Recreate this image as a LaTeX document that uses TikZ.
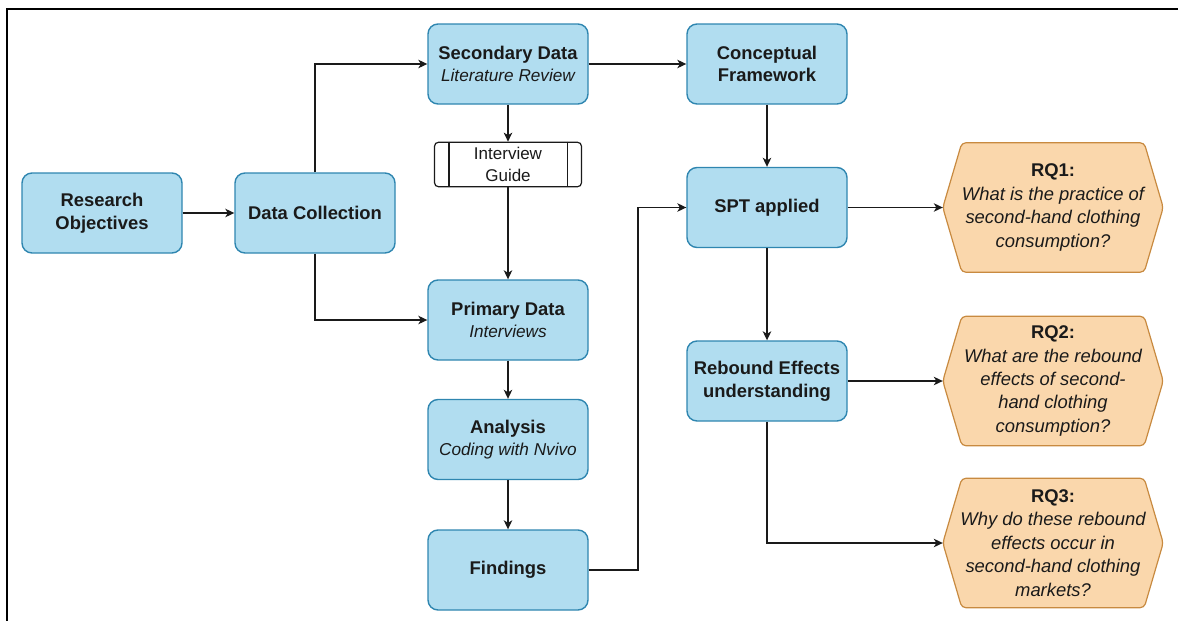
\documentclass[tikz,border=0pt]{standalone}
\usepackage{fontspec}
\setmainfont{Liberation Sans}
\usetikzlibrary{arrows.meta,backgrounds,calc}
\definecolor{boxfill}{HTML}{B1DDF0}
\definecolor{boxline}{HTML}{2F86B0}
\definecolor{rqfill}{HTML}{FAD7AC}
\definecolor{rqline}{HTML}{C88A40}
\definecolor{ink}{HTML}{1A1A1A}
\tikzset{
  stepbox/.style={draw=boxline, fill=boxfill, line width=1.4pt, rounded corners=10pt,
    minimum width=160pt, minimum height=80pt, inner sep=0pt, align=center,
    text=ink, font=\fontsize{18.4}{22.7}\selectfont\bfseries},
  guidebox/.style={draw=ink, fill=white, line width=1.2pt, rounded corners=4pt,
    minimum width=147pt, minimum height=44.5pt, inner sep=0pt, align=center,
    text=ink, font=\fontsize{17}{22}\selectfont},
  rqtext/.style={minimum width=220pt, minimum height=129pt, inner sep=0pt, align=center,
    text=ink, font=\fontsize{18.4}{23.4}\selectfont\itshape},
  rqshape/.style={draw=rqline, fill=rqfill, line width=1.2pt, rounded corners=4pt},
  conn/.style={draw=ink, line width=1.3pt, -{Stealth[length=9pt,width=8.5pt,inset=2.5pt]}},
}
\newcommand{\sub}[1]{{\fontsize{17.2}{22.7}\selectfont\mdseries\itshape #1}}
\newcommand{\rqhead}[1]{{\upshape\bfseries #1}}
\begin{document}
\begin{tikzpicture}[x=1pt,y=-1pt]
\useasboundingbox (0,0) rectangle (1178,621);
% outer frame (top and left edges)
\draw[line width=2pt, draw=black] (7,621) -- (7,9) -- (1178,9);

% process boxes
\node[stepbox] (ro)  at (102,213) {Research\\Objectives};
\node[stepbox] (dc)  at (315,213) {Data Collection};
\node[stepbox] (sec) at (508,64)  {Secondary Data\\\sub{Literature Review}};
\node[guidebox] (ig) at (508,164.5) {Interview\\Guide};
\node[stepbox] (pri) at (508,320) {Primary Data\\\sub{Interviews}};
\node[stepbox] (ana) at (508,439.5) {Analysis\\\sub{Coding with Nvivo}};
\node[stepbox] (fin) at (508,570) {Findings};
\node[stepbox] (cf)  at (767,64)  {Conceptual\\Framework};
\node[stepbox] (spt) at (767,207.5) {SPT applied};
\node[stepbox] (reb) at (767,381) {Rebound Effects\\understanding};

% research questions
\node[rqtext] (rq1) at (1053,207.5) {\rqhead{RQ1:}\\What is the practice of\\second-hand clothing\\consumption?};
\node[rqtext] (rq2) at (1053,381) {\rqhead{RQ2:}\\What are the rebound\\effects of second-\\hand clothing\\consumption?};
\node[rqtext] (rq3) at (1053,543) {\rqhead{RQ3:}\\Why do these rebound\\effects occur in\\second-hand clothing\\markets?};

\begin{scope}[on background layer]
  \foreach \n in {rq1,rq2,rq3}
    \draw[rqshape] (\n.west) -- ($(\n.north west)+(19,0)$) -- ($(\n.north east)+(-19,0)$)
      -- (\n.east) -- ($(\n.south east)+(-19,0)$) -- ($(\n.south west)+(19,0)$) -- cycle;
\end{scope}

% side bars of the predefined-process box
\draw[draw=ink, line width=1.2pt] ($(ig.north west)+(15,0)$) -- ($(ig.south west)+(15,0)$);
\draw[draw=ink, line width=1.2pt] ($(ig.north east)+(-15,0)$) -- ($(ig.south east)+(-15,0)$);

% connectors
\coordinate (bend) at (638,570);
\draw[conn] (ro) -- (dc);
\draw[conn] (dc.north) |- (sec.west);
\draw[conn] (dc.south) |- (pri.west);
\draw[conn] (sec) -- (ig);
\draw[conn] (ig) -- (pri);
\draw[conn] (pri) -- (ana);
\draw[conn] (ana) -- (fin);
\draw[conn] (sec) -- (cf);
\draw[conn] (cf) -- (spt);
\draw[conn] (fin.east) -- (bend) |- (spt.west);
\draw[conn] (spt) -- (rq1);
\draw[conn] (spt) -- (reb);
\draw[conn] (reb) -- (rq2);
\draw[conn] (reb.south) |- (rq3.west);
\end{tikzpicture}
\end{document}
